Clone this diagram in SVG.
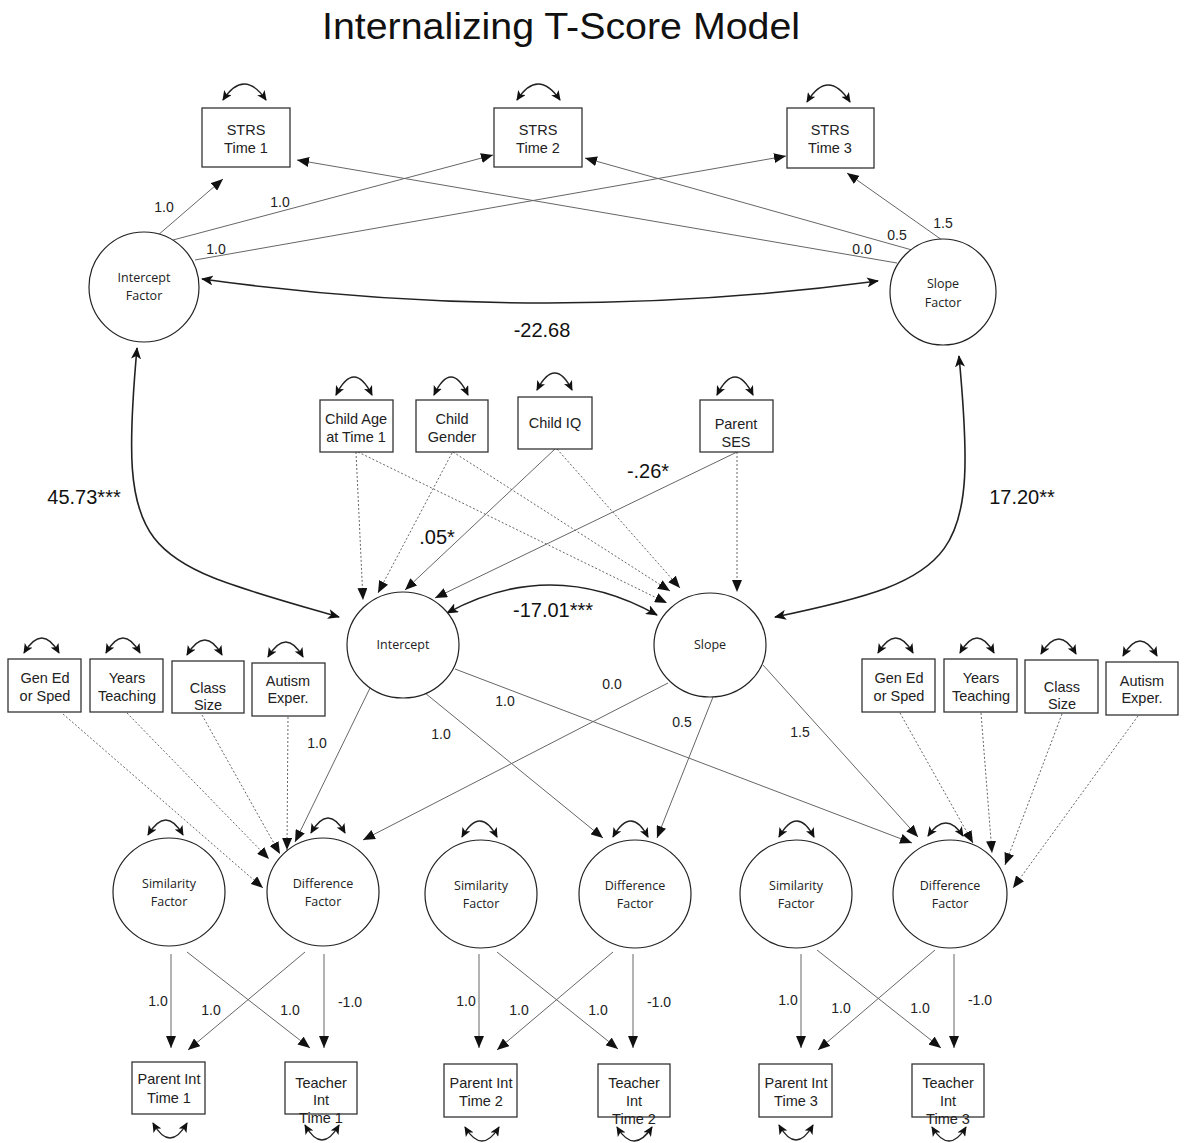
<svg xmlns="http://www.w3.org/2000/svg" width="1184" height="1143" viewBox="0 0 1184 1143">
<style>
.bg{fill:#fff}
.box{fill:#fff;stroke:#333;stroke-width:1.3}
.lat{fill:#fff;stroke:#222;stroke-width:1.2}
.t{font-family:"Liberation Sans",Arial,sans-serif;font-size:14.5px;text-anchor:middle;fill:#222}
.c{font-family:"Open Sans","Noto Sans",sans-serif;font-size:12.5px;text-anchor:middle;fill:#222}
.lb{font-family:"Liberation Sans",Arial,sans-serif;font-size:14px;text-anchor:middle;fill:#222}
.big{font-family:"Liberation Sans",Arial,sans-serif;font-size:20px;text-anchor:middle;fill:#111}
.ttl{font-family:"Liberation Sans",Arial,sans-serif;font-size:36px;text-anchor:middle;fill:#111}
.p{fill:none;stroke:#666;stroke-width:1;marker-end:url(#ah)}
.d{fill:none;stroke:#666;stroke-width:1;stroke-dasharray:2 2;marker-end:url(#ah)}
.cv{fill:none;stroke:#222;stroke-width:1.6;marker-start:url(#dh);marker-end:url(#dh)}
.sl{fill:none;stroke:#222;stroke-width:1.4;marker-start:url(#sh);marker-end:url(#sh)}
</style>
<defs>
<marker id="ah" markerUnits="userSpaceOnUse" markerWidth="12" markerHeight="10" viewBox="0 0 12 10" refX="12" refY="5" orient="auto"><path d="M0,0 L12,5 L0,10 z" fill="#111"/></marker>
<marker id="dh" markerUnits="userSpaceOnUse" markerWidth="12" markerHeight="10" viewBox="0 0 12 10" refX="11" refY="5" orient="auto-start-reverse"><path d="M0,0 L12,5 L0,10 L3,5 z" fill="#111"/></marker>
<marker id="sh" markerUnits="userSpaceOnUse" markerWidth="10" markerHeight="9" viewBox="0 0 10 9" refX="9" refY="4.5" orient="auto-start-reverse"><path d="M0,0 L10,4.5 L0,9 L2.5,4.5 z" fill="#111"/></marker>
</defs>
<rect class="bg" x="0" y="0" width="1184" height="1143"/>
<text class="ttl" x="561" y="39" textLength="478" lengthAdjust="spacingAndGlyphs">Internalizing T-Score Model</text>

<g id="connectors">
<!-- top loadings -->
<path class="p" d="M157,236 L223,179"/>
<path class="p" d="M173,240 L493,155"/>
<path class="p" d="M195,260 L786,156"/>
<path class="p" d="M897,263 L297,160"/>
<path class="p" d="M912,250 L585,158"/>
<path class="p" d="M942,240 L847,173"/>
<path class="cv" d="M202,279 Q540,326 878,281"/>
<path class="cv" d="M137,348 C118,560 140,560 339,617"/>
<path class="cv" d="M959,356 C978,560 962,578 775,617"/>
<path class="cv" d="M447,613 Q552,556 657,615"/>
<!-- covariates to growth -->
<path class="d" d="M356,452 L363,600"/>
<path class="d" d="M452,453 L378,593"/>
<path class="p" d="M555,449 L405,590"/>
<path class="p" d="M737,452 L435,598"/>
<path class="d" d="M358,452 L667,603"/>
<path class="d" d="M453,452 L670,591"/>
<path class="d" d="M557,449 L680,588"/>
<path class="d" d="M737,452 L737,592"/>
<!-- growth to difference -->
<path class="p" d="M370,688 L295,842"/>
<path class="p" d="M668,683 L363,840"/>
<path class="p" d="M425,693 L603,838"/>
<path class="p" d="M455,669 L912,843"/>
<path class="p" d="M713,697 L657,838"/>
<path class="p" d="M763,665 L918,837"/>
<!-- teacher covariates -->
<path class="d" d="M63,714 L263,888"/>
<path class="d" d="M127,713 L269,859"/>
<path class="d" d="M202,715 L280,854"/>
<path class="d" d="M288,717 L287,850"/>
<path class="d" d="M900,713 L973,843"/>
<path class="d" d="M981,713 L992,853"/>
<path class="d" d="M1062,714 L1005,865"/>
<path class="d" d="M1138,716 L1013,888"/>
<!-- bottom -->
<path class="p" d="M171,954 L171,1048"/>
<path class="p" d="M187,952 L310,1048"/>
<path class="p" d="M305,952 L188,1050"/>
<path class="p" d="M324,954 L324,1048"/>
<path class="p" d="M479,954 L479,1048"/>
<path class="p" d="M497,952 L618,1049"/>
<path class="p" d="M613,952 L497,1050"/>
<path class="p" d="M633,954 L633,1048"/>
<path class="p" d="M801,954 L801,1048"/>
<path class="p" d="M817,950 L941,1048"/>
<path class="p" d="M935,950 L818,1050"/>
<path class="p" d="M954,954 L954,1048"/>
<!-- self variances -->
<path class="sl" d="M223,100 Q244,68 266,100"/>
<path class="sl" d="M517,100 Q538,68 560,100"/>
<path class="sl" d="M807,102 Q828,68 850,102"/>
<path class="sl" d="M336,395 Q354,359 372,395"/>
<path class="sl" d="M434,395 Q451,359 468,395"/>
<path class="sl" d="M537,390 Q555,356 572,390"/>
<path class="sl" d="M717,395 Q735,359 753,395"/>
<path class="sl" d="M24,653 Q42,623 59,653"/>
<path class="sl" d="M106,653 Q123,623 140,653"/>
<path class="sl" d="M187,655 Q205,625 222,655"/>
<path class="sl" d="M268,657 Q286,627 303,657"/>
<path class="sl" d="M878,653 Q896,623 913,653"/>
<path class="sl" d="M960,653 Q977,623 994,653"/>
<path class="sl" d="M1041,654 Q1059,624 1076,654"/>
<path class="sl" d="M1123,656 Q1140,626 1157,656"/>
<path class="sl" d="M148,835 Q166,805 183,835"/>
<path class="sl" d="M311,833 Q328,803 345,833"/>
<path class="sl" d="M462,837 Q480,805 497,837"/>
<path class="sl" d="M613,837 Q631,805 648,837"/>
<path class="sl" d="M779,837 Q797,805 814,837"/>
<path class="sl" d="M928,836 Q946,810 963,836"/>
<path class="sl" d="M153,1123 Q170,1153 187,1123"/>
<path class="sl" d="M305,1125 Q322,1155 339,1125"/>
<path class="sl" d="M465,1127 Q482,1155 499,1127"/>
<path class="sl" d="M617,1127 Q634,1155 652,1127"/>
<path class="sl" d="M779,1125 Q796,1155 813,1125"/>
<path class="sl" d="M932,1127 Q949,1155 966,1127"/>
</g>

<g id="labels">
<text class="lb" x="164" y="212">1.0</text>
<text class="lb" x="280" y="207">1.0</text>
<text class="lb" x="216" y="254">1.0</text>
<text class="lb" x="862" y="254">0.0</text>
<text class="lb" x="897" y="240">0.5</text>
<text class="lb" x="943" y="228">1.5</text>
<text class="big" x="542" y="337">-22.68</text>
<text class="big" x="84" y="504">45.73***</text>
<text class="big" x="1022" y="504">17.20**</text>
<text class="big" x="437" y="544">.05*</text>
<text class="big" x="648" y="478">-.26*</text>
<text class="big" x="553" y="617">-17.01***</text>
<text class="lb" x="317" y="748">1.0</text>
<text class="lb" x="612" y="689">0.0</text>
<text class="lb" x="441" y="739">1.0</text>
<text class="lb" x="505" y="706">1.0</text>
<text class="lb" x="682" y="727">0.5</text>
<text class="lb" x="800" y="737">1.5</text>
<text class="lb" x="158" y="1006">1.0</text>
<text class="lb" x="211" y="1015">1.0</text>
<text class="lb" x="290" y="1015">1.0</text>
<text class="lb" x="350" y="1007">-1.0</text>
<text class="lb" x="466" y="1006">1.0</text>
<text class="lb" x="519" y="1015">1.0</text>
<text class="lb" x="598" y="1015">1.0</text>
<text class="lb" x="659" y="1007">-1.0</text>
<text class="lb" x="788" y="1005">1.0</text>
<text class="lb" x="841" y="1013">1.0</text>
<text class="lb" x="920" y="1013">1.0</text>
<text class="lb" x="980" y="1005">-1.0</text>
</g>

<g id="strs1"><rect class="box" x="202" y="108" width="88" height="59"/><text class="t" x="246" y="135">STRS</text><text class="t" x="246" y="153">Time 1</text></g>
<g id="strs2"><rect class="box" x="494" y="108" width="88" height="59"/><text class="t" x="538" y="135">STRS</text><text class="t" x="538" y="153">Time 2</text></g>
<g id="strs3"><rect class="box" x="787" y="108" width="87" height="60"/><text class="t" x="830" y="135">STRS</text><text class="t" x="830" y="153">Time 3</text></g>

<g id="intercept-factor"><circle class="lat" cx="144" cy="287" r="55"/><text class="c" x="144" y="282">Intercept</text><text class="c" x="144" y="300">Factor</text></g>
<g id="slope-factor"><ellipse class="lat" cx="943" cy="292" rx="53" ry="53"/><text class="c" x="943" y="288">Slope</text><text class="c" x="943" y="307">Factor</text></g>

<g id="child-age"><rect class="box" x="320" y="400" width="73" height="52"/><text class="t" x="356" y="424">Child Age</text><text class="t" x="356" y="442">at Time 1</text></g>
<g id="child-gender"><rect class="box" x="416" y="400" width="72" height="52"/><text class="t" x="452" y="424">Child</text><text class="t" x="452" y="442">Gender</text></g>
<g id="child-iq"><rect class="box" x="518" y="397" width="74" height="52"/><text class="t" x="555" y="428">Child IQ</text></g>
<g id="parent-ses"><rect class="box" x="700" y="400" width="73" height="52"/><text class="t" x="736" y="429">Parent</text><text class="t" x="736" y="447">SES</text></g>

<g id="intercept"><ellipse class="lat" cx="403" cy="645" rx="56" ry="53"/><text class="c" x="403" y="649">Intercept</text></g>
<g id="slope"><ellipse class="lat" cx="710" cy="645" rx="56" ry="52"/><text class="c" x="710" y="649">Slope</text></g>

<g id="genedL"><rect class="box" x="8" y="659" width="73" height="53"/><text class="t" x="45" y="683">Gen Ed</text><text class="t" x="45" y="701">or Sped</text></g>
<g id="yearsL"><rect class="box" x="90" y="659" width="73" height="53"/><text class="t" x="127" y="683">Years</text><text class="t" x="127" y="701">Teaching</text></g>
<g id="classL"><rect class="box" x="172" y="661" width="72" height="52"/><text class="t" x="208" y="693">Class</text><text class="t" x="208" y="710">Size</text></g>
<g id="autismL"><rect class="box" x="252" y="663" width="73" height="53"/><text class="t" x="288" y="686">Autism</text><text class="t" x="288" y="703">Exper.</text></g>

<g id="genedR"><rect class="box" x="862" y="659" width="73" height="53"/><text class="t" x="899" y="683">Gen Ed</text><text class="t" x="899" y="701">or Sped</text></g>
<g id="yearsR"><rect class="box" x="944" y="659" width="73" height="53"/><text class="t" x="981" y="683">Years</text><text class="t" x="981" y="701">Teaching</text></g>
<g id="classR"><rect class="box" x="1025" y="660" width="73" height="53"/><text class="t" x="1062" y="692">Class</text><text class="t" x="1062" y="709">Size</text></g>
<g id="autismR"><rect class="box" x="1106" y="662" width="72" height="53"/><text class="t" x="1142" y="686">Autism</text><text class="t" x="1142" y="703">Exper.</text></g>

<g id="sim1"><ellipse class="lat" cx="169" cy="892" rx="56" ry="54"/><text class="c" x="169" y="888">Similarity</text><text class="c" x="169" y="906">Factor</text></g>
<g id="diff1"><ellipse class="lat" cx="323" cy="892" rx="56" ry="54"/><text class="c" x="323" y="888">Difference</text><text class="c" x="323" y="906">Factor</text></g>
<g id="sim2"><ellipse class="lat" cx="481" cy="894" rx="56" ry="54"/><text class="c" x="481" y="890">Similarity</text><text class="c" x="481" y="908">Factor</text></g>
<g id="diff2"><ellipse class="lat" cx="635" cy="894" rx="56" ry="54"/><text class="c" x="635" y="890">Difference</text><text class="c" x="635" y="908">Factor</text></g>
<g id="sim3"><ellipse class="lat" cx="796" cy="894" rx="56" ry="54"/><text class="c" x="796" y="890">Similarity</text><text class="c" x="796" y="908">Factor</text></g>
<g id="diff3"><ellipse class="lat" cx="950" cy="894" rx="57" ry="54"/><text class="c" x="950" y="890">Difference</text><text class="c" x="950" y="908">Factor</text></g>

<g id="parent1"><rect class="box" x="132" y="1062" width="73" height="52"/><text class="t" x="169" y="1084">Parent Int</text><text class="t" x="169" y="1103">Time 1</text></g>
<g id="teacher1"><rect class="box" x="285" y="1062" width="72" height="52"/><text class="t" x="321" y="1088">Teacher</text><text class="t" x="321" y="1105">Int</text><text class="t" x="321" y="1123">Time 1</text></g>
<g id="parent2"><rect class="box" x="444" y="1064" width="73" height="53"/><text class="t" x="481" y="1088">Parent Int</text><text class="t" x="481" y="1106">Time 2</text></g>
<g id="teacher2"><rect class="box" x="598" y="1064" width="72" height="53"/><text class="t" x="634" y="1088">Teacher</text><text class="t" x="634" y="1106">Int</text><text class="t" x="634" y="1124">Time 2</text></g>
<g id="parent3"><rect class="box" x="759" y="1064" width="73" height="53"/><text class="t" x="796" y="1088">Parent Int</text><text class="t" x="796" y="1106">Time 3</text></g>
<g id="teacher3"><rect class="box" x="912" y="1064" width="72" height="53"/><text class="t" x="948" y="1088">Teacher</text><text class="t" x="948" y="1106">Int</text><text class="t" x="948" y="1124">Time 3</text></g>
</svg>
